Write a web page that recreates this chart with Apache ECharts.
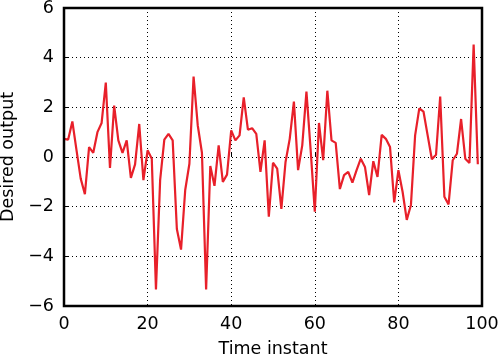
<!DOCTYPE html>
<html><head><meta charset="utf-8">
<script src="https://cdn.jsdelivr.net/npm/echarts@6/dist/echarts.min.js"></script>
<style>html,body{margin:0;padding:0;background:#fff}#c{width:499px;height:364px}</style>
</head><body><div id="c"></div>
<script>
const timeSteps = Array.from({length: 100}, (_, i) => i);
const desiredOutput = [
  0.73, 0.7, 1.43, 0.27, -0.87, -1.5, 0.4, 0.17, 1.0, 1.37,
  3.0, -0.44, 2.07, 0.67, 0.17, 0.67, -0.84, -0.3, 1.33, -0.93,
  0.27, -0.07, -5.33, -0.93, 0.7, 0.93, 0.67, -2.9, -3.73, -1.33,
  -0.27, 3.24, 1.27, 0.17, -5.33, -0.36, -1.16, 0.47, -1.0, -0.71,
  1.07, 0.67, 0.87, 2.4, 1.1, 1.16, 0.93, -0.6, 0.67, -2.4,
  -0.23, -0.47, -2.09, -0.2, 0.73, 2.23, -0.53, 0.47, 2.63, 0.3,
  -2.2, 1.37, -0.13, 2.67, 0.67, 0.57, -1.29, -0.73, -0.6, -1.03,
  -0.53, -0.07, -0.4, -1.53, -0.17, -0.8, 0.89, 0.73, 0.4, -1.83,
  -0.53, -1.4, -2.53, -1.93, 0.87, 1.96, 1.83, 0.87, -0.09, 0.09,
  2.43, -1.6, -1.91, -0.13, 0.13, 1.53, -0.07, -0.24, 4.53, -0.29
];
const xTicks = {min: 0, max: 100, interval: 20};
const yTicks = {min: -6, max: 6, interval: 2};
const xLabel = 'Time instant';
const yLabel = 'Desired output';

const font = 'DejaVu Sans';
const fs = 17.5;
const fmt = v => String(v).replace('-', '\u2212');
const gridLine = () => ({show: true, lineStyle: {color: '#000', width: 1, type: [1, 3]}});
const tick = () => ({show: true, inside: true, length: 5, lineStyle: {color: '#000', width: 1}});
const chart = echarts.init(document.getElementById('c'));
chart.setOption({
  animation: false,
  grid: {left: 64, right: 17, top: 8, bottom: 58, containLabel: false, outerBoundsMode: 'none'},
  xAxis: [{
    type: 'value', position: 'bottom', min: xTicks.min, max: xTicks.max, interval: xTicks.interval,
    name: xLabel, nameLocation: 'middle', nameGap: 34,
    nameTextStyle: {fontFamily: font, fontSize: fs, color: '#000'},
    axisLine: {show: false}, axisTick: tick(),
    axisLabel: {fontFamily: font, fontSize: fs, color: '#000', margin: 9, formatter: fmt},
    splitLine: gridLine()
  }],
  yAxis: [{
    type: 'value', position: 'left', min: yTicks.min, max: yTicks.max, interval: yTicks.interval,
    name: yLabel, nameLocation: 'middle', nameGap: 45, nameRotate: 90,
    nameTextStyle: {fontFamily: font, fontSize: fs, color: '#000'},
    axisLine: {show: false}, axisTick: tick(),
    axisLabel: {fontFamily: font, fontSize: fs, color: '#000', margin: 10, formatter: fmt},
    splitLine: gridLine()
  }],
  series: [{
    type: 'line', data: timeSteps.map((t, i) => [t, desiredOutput[i]]),
    showSymbol: false, lineStyle: {color: '#e8202a', width: 2.2}, z: 3
  }]
});
const p0 = chart.convertToPixel({gridIndex: 0}, [xTicks.min, yTicks.max]);
const p1 = chart.convertToPixel({gridIndex: 0}, [xTicks.max, yTicks.min]);
chart.setOption({
  graphic: [{
    type: 'rect', z: 100, silent: true,
    shape: {x: p0[0], y: p0[1], width: p1[0] - p0[0], height: p1[1] - p0[1]},
    style: {fill: 'none', stroke: '#000', lineWidth: 2.5}
  }]
});
</script></body></html>
